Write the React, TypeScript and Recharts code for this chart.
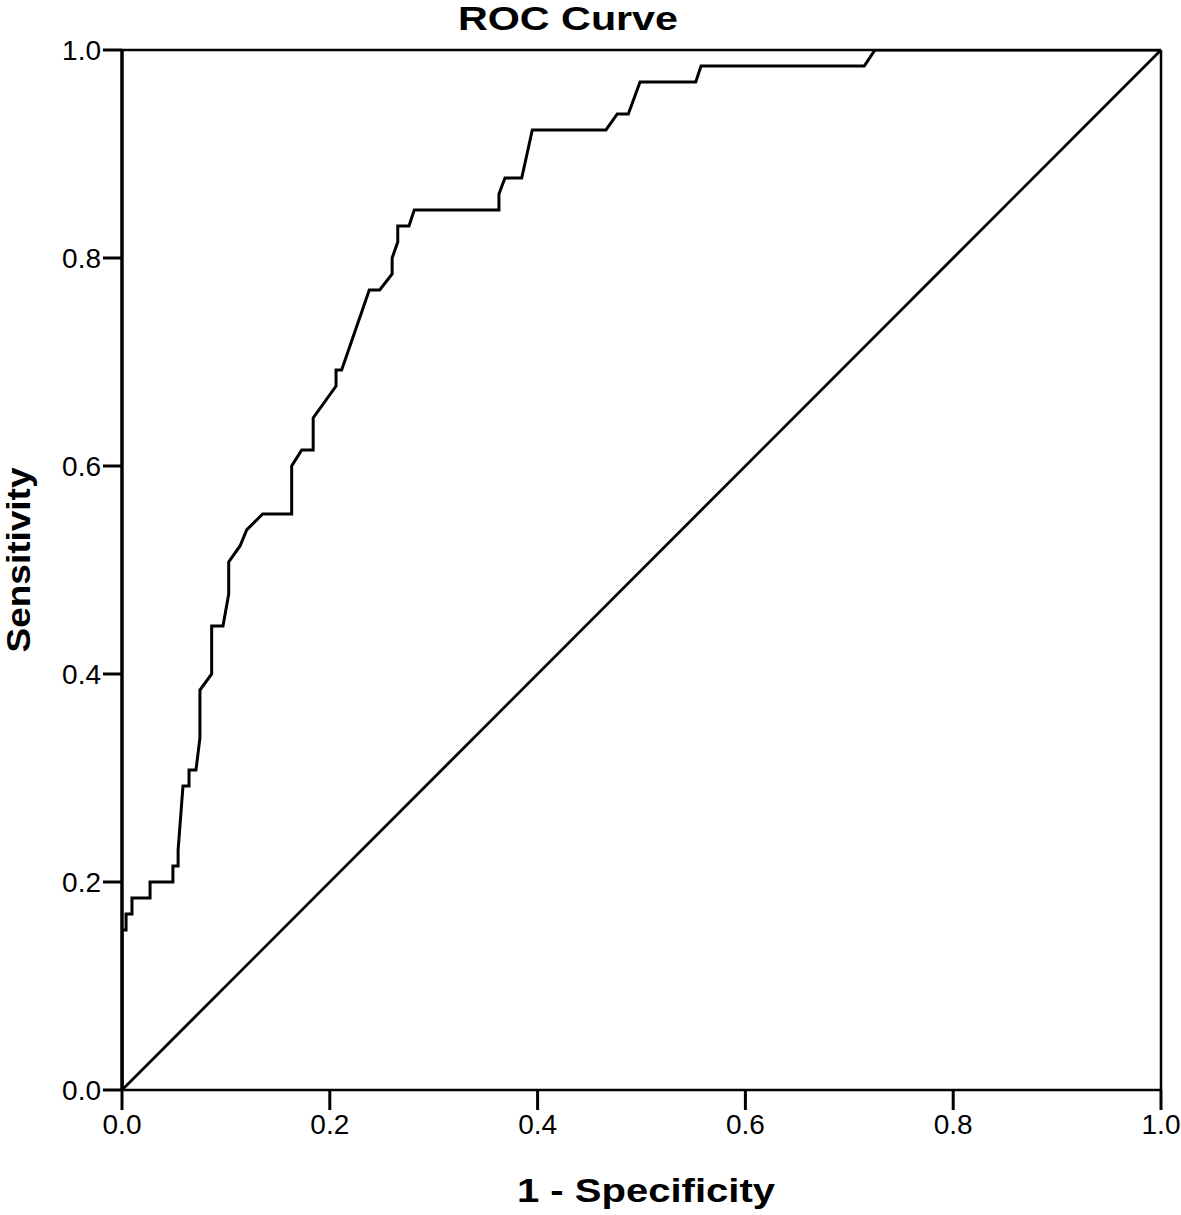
import { LineChart, Line, XAxis, YAxis, ReferenceLine } from 'recharts';

/* ── Data ────────────────────────────────────────────────────────────── */
// ROC curve vertices: 1 - specificity (x) and sensitivity (y)
const rocFpr = [
  0, 0, 0.0039, 0.0039, 0.0096, 0.0096, 0.027, 0.027, 0.049, 0.049,
  0.054, 0.054, 0.0587, 0.0645, 0.0645, 0.0712, 0.075, 0.075, 0.0863, 0.0863,
  0.0972, 0.1027, 0.1027, 0.1136, 0.12, 0.1354, 0.1633, 0.1633, 0.173, 0.184,
  0.184, 0.206, 0.206, 0.2114, 0.238, 0.248, 0.26, 0.26, 0.2654, 0.2654,
  0.2762, 0.2813, 0.3628, 0.3628, 0.3686, 0.3847, 0.3949, 0.4658, 0.4767, 0.4873,
  0.4986, 0.5522, 0.5573, 0.7144, 0.7247, 1,
];
const rocTpr = [
  0, 0.1538, 0.1538, 0.1692, 0.1692, 0.1846, 0.1846, 0.2, 0.2, 0.2154,
  0.2154, 0.2308, 0.2923, 0.2923, 0.3077, 0.3077, 0.3385, 0.3846, 0.4, 0.4462,
  0.4462, 0.4769, 0.5077, 0.5231, 0.5385, 0.5538, 0.5538, 0.6, 0.6154, 0.6154,
  0.6462, 0.6769, 0.6923, 0.6923, 0.7692, 0.7692, 0.7846, 0.8, 0.8154, 0.8308,
  0.8308, 0.8462, 0.8462, 0.8615, 0.8769, 0.8769, 0.9231, 0.9231, 0.9385, 0.9385,
  0.9692, 0.9692, 0.9846, 0.9846, 1, 1,
];

// Reference (chance) diagonal
const diagX = [0, 1];
const diagY = [0, 1];

const axisTicks = [0, 0.2, 0.4, 0.6, 0.8, 1];

const rocData = rocFpr.map((x, i) => ({ x, y: rocTpr[i] }));
const diagData = diagX.map((x, i) => ({ x, y: diagY[i] }));

const FONT = 'Arial, "Liberation Sans", Helvetica, sans-serif';
const W = 1181;
const H = 1215;

export default function App() {
  return (
    <div style={{ position: 'absolute', left: 0, top: 0, width: W, height: H, background: '#fff' }}>
      <LineChart
        width={W}
        height={H}
        margin={{ top: 50, right: 20, left: 62, bottom: 85 }}
      >
        <XAxis
          dataKey="x"
          type="number"
          domain={[0, 1]}
          ticks={axisTicks}
          allowDataOverflow
          height={40}
          tickSize={20}
          tickMargin={4}
          tickFormatter={(v: number) => v.toFixed(1)}
          axisLine={{ stroke: '#000', strokeWidth: 2.5 }}
          tickLine={{ stroke: '#000', strokeWidth: 3 }}
          tick={{ fill: '#000', fontSize: 28, fontFamily: FONT }}
        />
        <YAxis
          dataKey="y"
          type="number"
          domain={[0, 1]}
          ticks={axisTicks}
          allowDataOverflow
          width={60}
          tickSize={19}
          tickMargin={2}
          tickFormatter={(v: number) => v.toFixed(1)}
          axisLine={{ stroke: '#000', strokeWidth: 3.5 }}
          tickLine={{ stroke: '#000', strokeWidth: 3 }}
          tick={{ fill: '#000', fontSize: 28, fontFamily: FONT }}
        />

        {/* frame: top and right border */}
        <ReferenceLine y={1} stroke="#000" strokeWidth={2.5} />
        <ReferenceLine x={1} stroke="#000" strokeWidth={2.5} />

        <Line
          data={diagData}
          dataKey="y"
          type="linear"
          stroke="#000"
          strokeWidth={2.8}
          dot={false}
          activeDot={false}
          isAnimationActive={false}
        />
        <Line
          data={rocData}
          dataKey="y"
          type="linear"
          stroke="#000"
          strokeWidth={3}
          strokeLinejoin="miter"
          dot={false}
          activeDot={false}
          isAnimationActive={false}
        />
      </LineChart>

      {/* titles drawn on top */}
      <svg
        width={W}
        height={H}
        style={{ position: 'absolute', left: 0, top: 0, pointerEvents: 'none' }}
      >
        <text x={568} y={30} textAnchor="middle" fontFamily={FONT} fontWeight="bold" fontSize={33}
          textLength={220} lengthAdjust="spacingAndGlyphs" fill="#000">
          ROC Curve
        </text>
        <text x={646} y={1202} textAnchor="middle" fontFamily={FONT} fontWeight="bold" fontSize={34}
          textLength={258} lengthAdjust="spacingAndGlyphs" fill="#000">
          1 - Specificity
        </text>
        <text x={30} y={560} transform="rotate(-90 30 560)" textAnchor="middle" fontFamily={FONT}
          fontWeight="bold" fontSize={34} textLength={185} lengthAdjust="spacingAndGlyphs" fill="#000">
          Sensitivity
        </text>
      </svg>
    </div>
  );
}
